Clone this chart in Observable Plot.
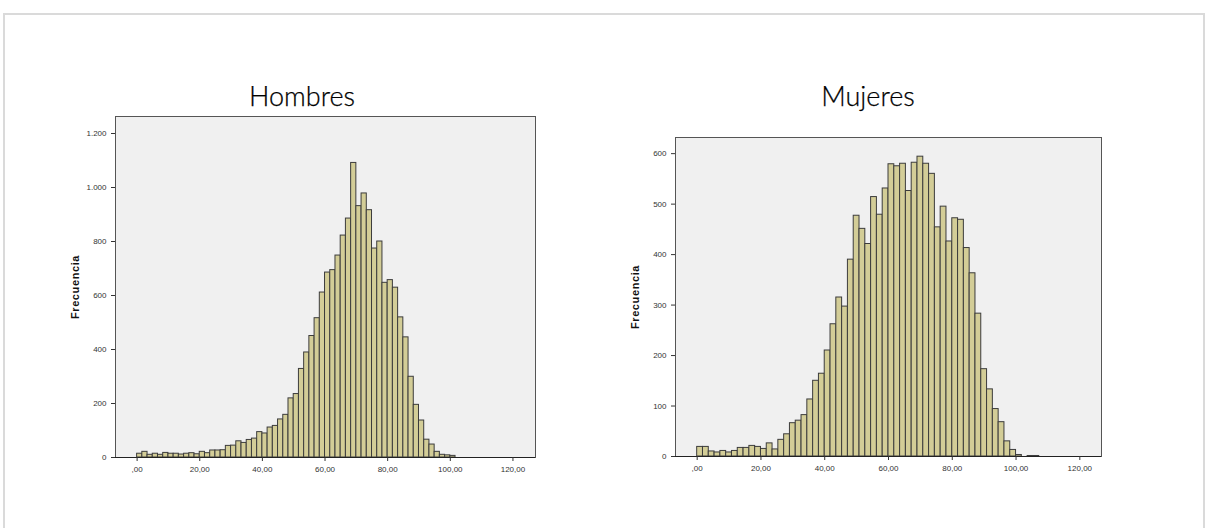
<!DOCTYPE html>
<html>
<head>
<meta charset="utf-8">
<script src="https://cdn.jsdelivr.net/npm/d3@7"></script>
<script src="https://cdn.jsdelivr.net/npm/@observablehq/plot@0.6"></script>
<style>
  html, body { margin: 0; padding: 0; background: #fff; width: 1208px; height: 528px; overflow: hidden; }
  #page { position: relative; width: 1208px; height: 528px; }
  #border { position: absolute; left: 3px; top: 13px; width: 1202px; height: 560px; border: 2px solid #dadada; box-sizing: border-box; }
  .title { position: absolute; font-family: Lato, "Open Sans", sans-serif; font-size: 27px; font-weight: 300; color: #000; transform: translateX(-50%); white-space: nowrap; line-height: 1; -webkit-text-stroke: 0.25px #000; }
  .chart { position: absolute; }
  .chart svg { font-family: "Liberation Sans", Arial, sans-serif; }
  .chart g[aria-label="y-axis label"] text { font-weight: bold; font-size: 11px; letter-spacing: 0.6px; fill: #111; }
</style>
</head>
<body>
<div id="page">
  <div id="border"></div>
  <div class="title" id="t1" style="left:302px; top:82px;"></div>
  <div class="title" id="t2" style="left:868px; top:82px;"></div>
  <div class="chart" id="c1" style="left:40px; top:100px;"></div>
  <div class="chart" id="c2" style="left:600px; top:120px;"></div>
</div>
<script>
// ---- data ----
const titles = ["Hombres", "Mujeres"];
const yLabel = "Frecuencia";

const binWidthHombres = 5 / 3;
const countsHombres = [
  14, 21, 10, 14, 10, 17, 14, 14, 11, 14,
  16, 12, 21, 16, 26, 26, 27, 43, 44, 60,
  54, 65, 70, 94, 89, 111, 117, 141, 158, 219,
  235, 328, 389, 450, 516, 611, 685, 694, 748, 822,
  885, 1091, 931, 978, 916, 774, 800, 647, 657, 629,
  519, 445, 299, 195, 137, 66, 48, 21, 10, 8, 6
];

const binWidthMujeres = 100 / 55;
const countsMujeres = [
  19, 19, 10, 8, 11, 8, 11, 17, 17, 21,
  19, 15, 26, 14, 33, 44, 66, 71, 82, 113,
  150, 164, 210, 262, 315, 297, 390, 477, 451, 421,
  514, 479, 531, 579, 575, 580, 526, 582, 594, 580,
  560, 454, 495, 426, 472, 469, 413, 363, 283, 173,
  133, 94, 68, 30, 13, 3, 0, 1, 1
];

const xTicks = [0, 20, 40, 60, 80, 100, 120];
const yTicksHombres = [0, 200, 400, 600, 800, 1000, 1200];
const yTicksMujeres = [0, 100, 200, 300, 400, 500, 600];

// ---- helpers ----
const fmtX = d => d === 0 ? ",00" : d3.format("d")(d) + ",00";
const fmtY = d => d >= 1000 ? d3.format(",d")(d).replace(/,/g, ".") : String(d);

function bins(counts, w) {
  return counts.map((c, i) => ({x1: i * w, x2: (i + 1) * w, count: c}));
}

function chart({counts, w, yTicks, yMax, xDomain, width, height, margins}) {
  return Plot.plot({
    width, height,
    marginLeft: margins[0], marginRight: margins[1], marginTop: margins[2], marginBottom: margins[3],
    style: {fontSize: "8px", color: "#333", background: "transparent"},
    x: {domain: xDomain},
    y: {domain: [0, yMax]},
    marks: [
      Plot.frame({fill: "#f0f0f0", stroke: "#555"}),
      Plot.rectY(bins(counts, w), {x1: "x1", x2: "x2", y: "count", fill: "#d3cd97", stroke: "#3c3c3c", strokeWidth: 1, inset: 0}),
      Plot.ruleY([0], {stroke: "#222"}),
      Plot.axisX({ticks: xTicks, tickFormat: fmtX, tickSize: 4, label: null}),
      Plot.axisY({ticks: yTicks, tickFormat: fmtY, tickSize: 4, label: yLabel, labelAnchor: "center", labelArrow: "none", labelOffset: 44})
    ]
  });
}

document.getElementById("t1").textContent = titles[0];
document.getElementById("t2").textContent = titles[1];

// left chart
document.getElementById("c1").appendChild(chart({
  counts: countsHombres, w: binWidthHombres, yTicks: yTicksHombres, yMax: 1263,
  xDomain: [-6.9, 127.2], width: 520, height: 380, margins: [75, 25, 16, 23]
}));
// right chart
document.getElementById("c2").appendChild(chart({
  counts: countsMujeres, w: binWidthMujeres, yTicks: yTicksMujeres, yMax: 632,
  xDomain: [-6.8, 126.8], width: 530, height: 360, margins: [75, 29, 17, 24]
}));
</script>
</body>
</html>
